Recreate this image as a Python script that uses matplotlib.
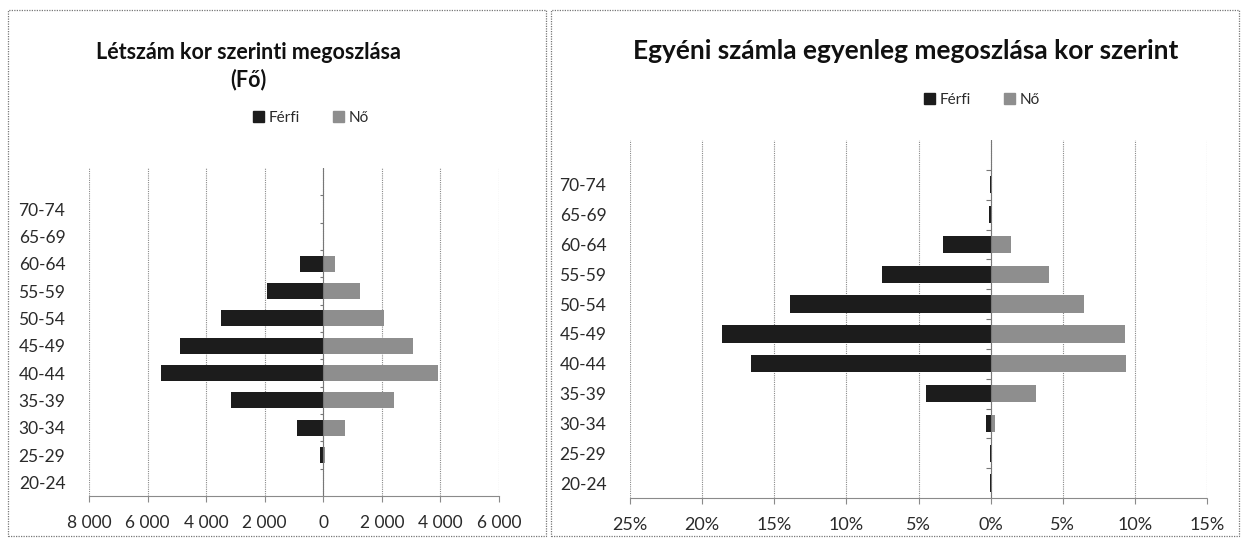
import matplotlib
matplotlib.use("Agg")
import matplotlib.pyplot as plt
from matplotlib.patches import Rectangle, Patch
from matplotlib.ticker import FuncFormatter, MultipleLocator

# -------------
# DATA
# -------------
age_groups = ["20-24", "25-29", "30-34", "35-39", "40-44", "45-49",
              "50-54", "55-59", "60-64", "65-69", "70-74", ""]
# headcount (persons)
count_male = [10, 100, 900, 3140, 5550, 4880, 3490, 1920, 800, 20, 10, 0]
count_female = [10, 70, 750, 2400, 3930, 3080, 2090, 1240, 400, 10, 5, 0]
# share of individual account balance (%)
bal_male = [0.02, 0.05, 0.35, 4.45, 16.6, 18.6, 13.9, 7.55, 3.3, 0.1, 0.02, 0]
bal_female = [0.01, 0.03, 0.3, 3.15, 9.4, 9.3, 6.5, 4.05, 1.4, 0.05, 0.01, 0]

title_left = "Létszám kor szerinti megoszlása\n(Fő)"
title_right = "Egyéni számla egyenleg megoszlása kor szerint"
legend_labels = ["Férfi", "Nő"]

# -------------
# STYLE
# -------------
MALE = "#1c1c1c"
FEMALE = "#8e8e8e"
GRID = "#8a8a8a"
TXT = "#2a2a2a"
FONT = ["Lato", "DejaVu Sans"]
plt.rcParams["font.family"] = FONT

fig = plt.figure(figsize=(12.42, 5.4), dpi=100)


def px_axes(x0, y0, x1, y1):
    W, H = 1242, 540
    return fig.add_axes([x0 / W, (H - y1) / H, (x1 - x0) / W, (y1 - y0) / H])


def pyramid(ax, male, female, xmin, xmax, step, fmt, xsize):
    y = list(range(len(age_groups)))
    ax.barh(y, [-v for v in male], height=0.58, color=MALE, zorder=3)
    ax.barh(y, female, height=0.58, color=FEMALE, zorder=3)
    ax.set_xlim(xmin, xmax)
    ax.set_ylim(-0.5, len(age_groups) - 0.5)
    ax.xaxis.set_major_locator(MultipleLocator(step))
    ax.xaxis.set_major_formatter(FuncFormatter(fmt))
    ax.set_yticks(y[:-1])
    ax.set_yticklabels(age_groups[:-1])
    ax.grid(axis="x", color=GRID, linestyle=(0, (1, 1)), linewidth=0.8, zorder=0)
    for s in ["top", "right", "left"]:
        ax.spines[s].set_visible(False)
    ax.spines["bottom"].set_color(GRID)
    ax.spines["bottom"].set_linestyle((0, (1, 1)))
    ax.spines["bottom"].set_linewidth(0.8)
    ax.tick_params(axis="x", length=4, color=GRID, labelsize=xsize, labelcolor=TXT, pad=10)
    ax.tick_params(axis="y", length=0, labelsize=12.5, labelcolor=TXT, pad=17)
    # central category axis with small ticks between categories
    ax.axvline(0, color="#777777", linewidth=0.8, zorder=4)
    tick = (xmax - xmin) * 0.008
    ax.hlines([k + 0.5 for k in y[:-1]], -tick, 0, color="#777777", linewidth=0.8, zorder=4)


def thousands(v, pos):
    return f"{abs(int(round(v))):,}".replace(",", " ")


def percent(v, pos):
    return f"{abs(v):.0f}%"


# left chart: headcount
ax1 = px_axes(89, 168, 499, 496)
pyramid(ax1, count_male, count_female, -8000, 6000, 2000, thousands, 12.5)

# right chart: balance share
ax2 = px_axes(630, 140, 1207, 498)
pyramid(ax2, bal_male, bal_female, -25, 15, 5, percent, 13)

# titles
fig.text(248 / 1242, 1 - 66 / 540, title_left, ha="center", va="center",
         fontsize=15.5, fontweight="bold", color="#111111", linespacing=1.35)
fig.text(906 / 1242, 1 - 51 / 540, title_right, ha="center", va="center",
         fontsize=19, fontweight="bold", color="#111111")

# legends
handles = [Patch(color=MALE), Patch(color=FEMALE)]
for cx, cy in [(311, 118), (982, 100)]:
    fig.legend(handles, legend_labels, loc="center", ncol=2,
               bbox_to_anchor=(cx / 1242, 1 - cy / 540), frameon=False,
               fontsize=11, handlelength=0.7, handleheight=0.7,
               handletextpad=0.3, columnspacing=2.2, labelcolor=TXT)

# chart frames
for x0, x1 in [(8, 546), (551, 1239)]:
    fig.add_artist(Rectangle((x0 / 1242, 4 / 540), (x1 - x0) / 1242, 526 / 540,
                             transform=fig.transFigure, fill=False,
                             edgecolor="#777777", linewidth=0.9,
                             linestyle=(0, (1, 1))))

fig.savefig("out.png", dpi=100)
